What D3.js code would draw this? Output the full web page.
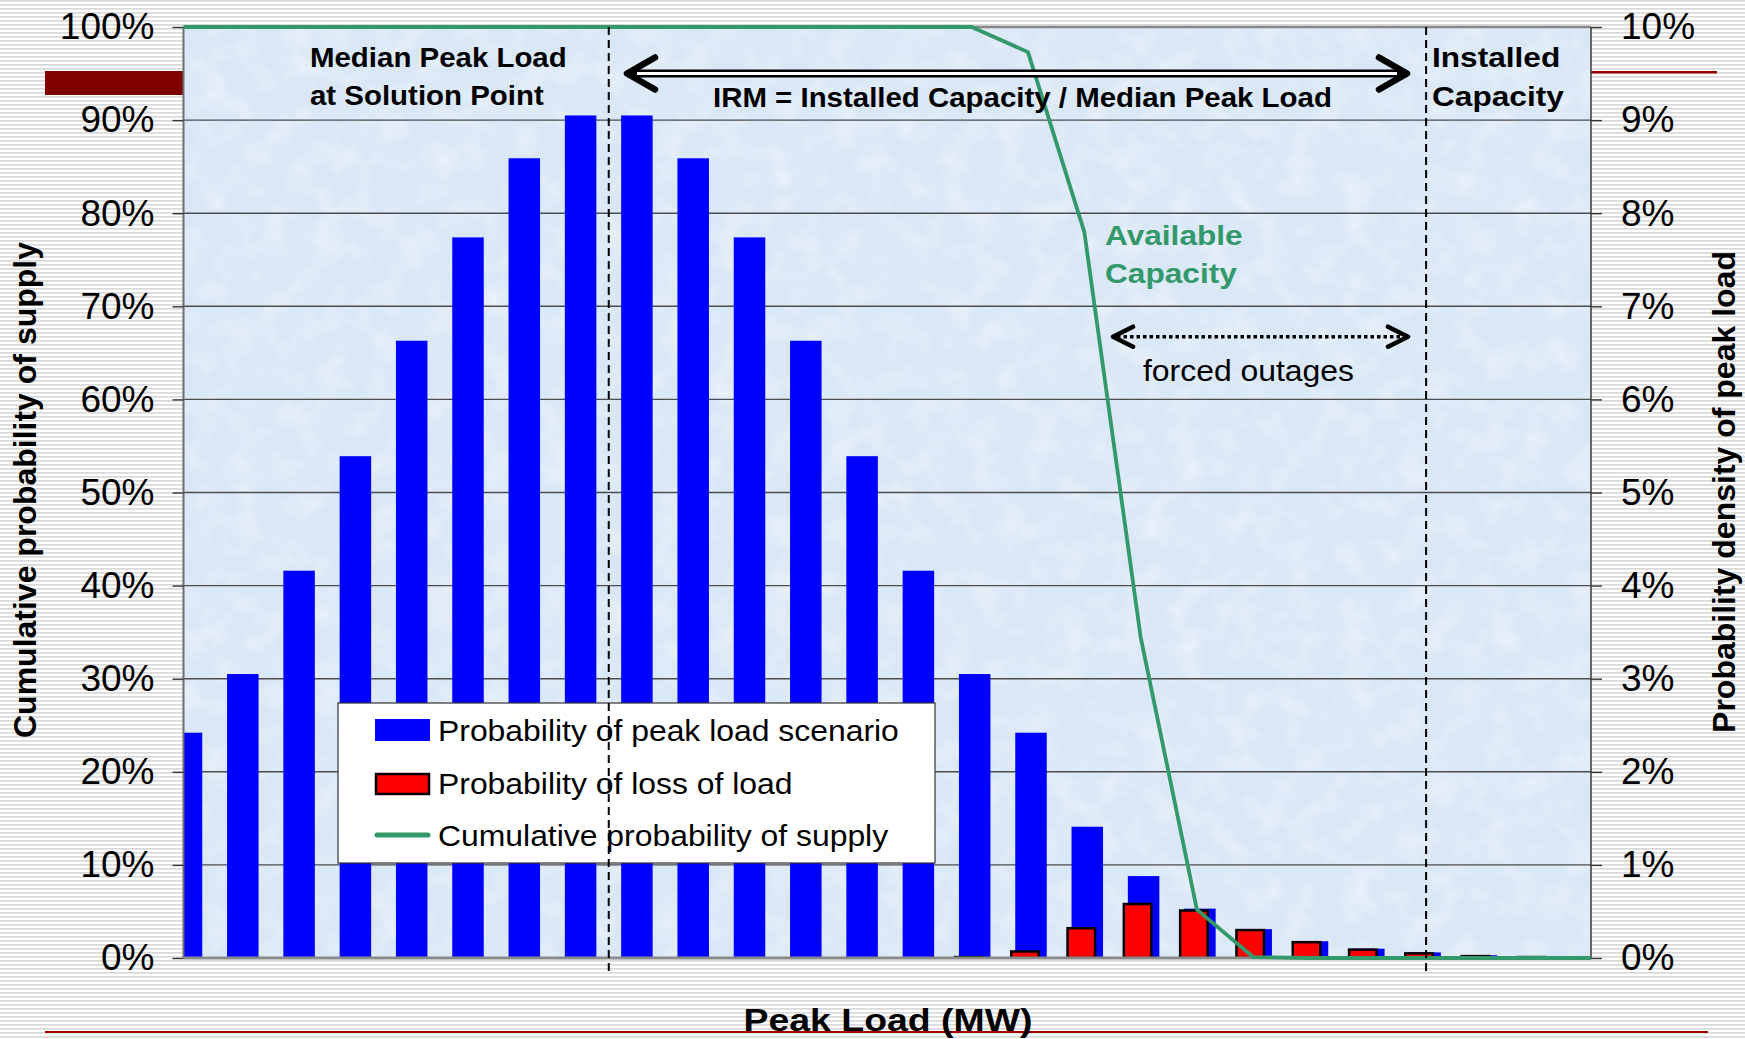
<!DOCTYPE html>
<html>
<head>
<meta charset="utf-8">
<script src="https://cdn.jsdelivr.net/npm/d3@7"></script>
<style>
  body { margin: 0; background: #fff; }
  text { font-family: "Liberation Sans", Arial, sans-serif; }
</style>
</head>
<body>
<div class="chart"></div>
<script>
// scenario index (26 peak load steps, no labels on the x axis)
var scenarios = d3.range(26);

// probability of peak load scenario (right axis, %)
var peakLoadProb = [2.42, 3.05, 4.16, 5.39, 6.63, 7.74, 8.59, 9.05, 9.05, 8.59, 7.74, 6.63, 5.39,
    4.16, 3.05, 2.42, 1.41, 0.88, 0.53, 0.31, 0.18, 0.10, 0.06, 0.03, 0.015, 0];

// probability of loss of load (right axis, %), null = no bar
var lossOfLoadProb = [null, null, null, null, null, null, null, null, null, null, null, null, null,
    null, 0.01, 0.07, 0.32, 0.58, 0.51, 0.30, 0.17, 0.09, 0.05, 0.02, 0.01, 0];

// cumulative probability of supply (left axis, %)
var supplyCumProb = [100, 100, 100, 100, 100, 100, 100, 100, 100, 100, 100, 100, 100,
    100, 100, 97.3, 78.0, 34.5, 5.2, 0.1, 0, 0, 0, 0, 0, 0];

var leftTicks = [0, 10, 20, 30, 40, 50, 60, 70, 80, 90, 100];
var rightTicks = [0, 1, 2, 3, 4, 5, 6, 7, 8, 9, 10];

var legendItems = ["Probability of peak load scenario", "Probability of loss of load", "Cumulative probability of supply"];

var svgWidth = 1745;
var svgHeight = 1039;

var plot = { left: 183.5, top: 27, right: 1591, bottom: 958 };
var width = plot.right - plot.left;
var height = plot.bottom - plot.top;

var svg = d3.select(".chart")
    .append("svg")
    .attr("width", svgWidth)
    .attr("height", svgHeight);

var defs = svg.append("defs");

var stripes = defs.append("pattern")
    .attr("id", "stripes")
    .attr("width", 8)
    .attr("height", 4)
    .attr("patternUnits", "userSpaceOnUse");
stripes.append("rect").attr("width", 8).attr("height", 4).attr("fill", "#ffffff");
stripes.append("rect").attr("width", 8).attr("height", 1.7).attr("fill", "#d9d9d9");

// faint mottled texture for the plot background
var tex = defs.append("filter")
    .attr("id", "texture")
    .attr("x", 0).attr("y", 0).attr("width", 1).attr("height", 1);
tex.append("feTurbulence")
    .attr("type", "fractalNoise")
    .attr("baseFrequency", 0.035)
    .attr("numOctaves", 3)
    .attr("seed", 7);
tex.append("feColorMatrix")
    .attr("type", "matrix")
    .attr("values", "0 0 0 0 1  0 0 0 0 1  0 0 0 0 1  0.9 0 0 0 -0.38");

defs.append("clipPath")
    .attr("id", "plotClip")
    .append("rect")
    .attr("x", plot.left)
    .attr("y", plot.top)
    .attr("width", width)
    .attr("height", height);

// page background
svg.append("rect")
    .attr("width", svgWidth)
    .attr("height", svgHeight)
    .attr("fill", "url(#stripes)");

// template decorations
svg.append("rect")
    .attr("x", 45).attr("y", 71)
    .attr("width", plot.left - 45).attr("height", 24)
    .attr("fill", "#800000");

svg.append("line")
    .attr("x1", plot.right).attr("x2", 1717)
    .attr("y1", 72.3).attr("y2", 72.3)
    .attr("stroke", "#990000")
    .attr("stroke-width", 2.5);

svg.append("line")
    .attr("x1", 45).attr("x2", 1708)
    .attr("y1", 1032).attr("y2", 1032)
    .attr("stroke", "#a00000")
    .attr("stroke-width", 2);

// scales
var x = d3.scalePoint()
    .domain(scenarios)
    .range([plot.left, plot.right]);

var yLeft = d3.scaleLinear()
    .domain([0, 100])
    .range([plot.bottom, plot.top]);

var yRight = d3.scaleLinear()
    .domain([0, 10])
    .range([plot.bottom, plot.top]);

// plot area
svg.append("rect")
    .attr("x", plot.left)
    .attr("y", plot.top)
    .attr("width", width)
    .attr("height", height)
    .attr("fill", "#d9e7f6");

svg.append("rect")
    .attr("x", plot.left)
    .attr("y", plot.top)
    .attr("width", width)
    .attr("height", height)
    .attr("filter", "url(#texture)");

svg.append("g")
    .selectAll("line")
    .data(leftTicks.slice(1))
    .enter()
    .append("line")
    .attr("x1", plot.left)
    .attr("x2", plot.right)
    .attr("y1", d => yLeft(d))
    .attr("y2", d => yLeft(d))
    .attr("stroke", d => d === 100 ? "#888888" : "#4d4d4d")
    .attr("stroke-width", d => d === 100 ? 2.5 : 1.4);

var barsGroup = svg.append("g").attr("clip-path", "url(#plotClip)");

var blueWidth = 31.5;
var redWidth = 27.5;

barsGroup.selectAll(".blue")
    .data(peakLoadProb)
    .enter()
    .append("rect")
    .attr("class", "blue")
    .attr("x", (d, i) => x(i) + 3 - blueWidth / 2)
    .attr("y", d => yRight(d))
    .attr("width", blueWidth)
    .attr("height", d => plot.bottom - yRight(d))
    .attr("fill", "#0000ff");

barsGroup.selectAll(".red")
    .data(lossOfLoadProb.map((d, i) => ({ v: d, i: i })).filter(d => d.v !== null))
    .enter()
    .append("rect")
    .attr("class", "red")
    .attr("x", d => x(d.i) - 3 - redWidth / 2)
    .attr("y", d => yRight(d.v))
    .attr("width", redWidth)
    .attr("height", d => plot.bottom - yRight(d.v))
    .attr("fill", "#ff0000")
    .attr("stroke", "#000000")
    .attr("stroke-width", 2.5);

// plot borders and axes
svg.append("line")
    .attr("x1", plot.left).attr("x2", plot.left)
    .attr("y1", plot.top).attr("y2", plot.bottom)
    .attr("stroke", "#6e6e6e").attr("stroke-width", 2);

svg.append("line")
    .attr("x1", plot.right).attr("x2", plot.right)
    .attr("y1", plot.top).attr("y2", plot.bottom)
    .attr("stroke", "#3a3a3a").attr("stroke-width", 1.5);

svg.append("line")
    .attr("x1", plot.left).attr("x2", plot.right)
    .attr("y1", plot.bottom).attr("y2", plot.bottom)
    .attr("stroke", "#8a8a8a").attr("stroke-width", 3);

var leftAxis = d3.axisLeft(yLeft)
    .tickValues(leftTicks)
    .tickSize(11)
    .tickPadding(18)
    .tickFormat(d => d + "%");

var rightAxis = d3.axisRight(yRight)
    .tickValues(rightTicks)
    .tickSize(11)
    .tickPadding(19)
    .tickFormat(d => d + "%");

var leftG = svg.append("g")
    .attr("transform", `translate(${plot.left}, 0)`)
    .call(leftAxis);

var rightG = svg.append("g")
    .attr("transform", `translate(${plot.right}, 0)`)
    .call(rightAxis);

[leftG, rightG].forEach(function(g) {
    g.select(".domain").remove();
    g.selectAll(".tick line").attr("stroke", "#333333").attr("stroke-width", 1.4);
    g.selectAll(".tick text")
        .attr("font-size", 37)
        .attr("fill", "#000000");
});

// cumulative probability of supply
var line = d3.line()
    .x((d, i) => x(i))
    .y(d => yLeft(d));

svg.append("path")
    .datum(supplyCumProb)
    .attr("d", line)
    .attr("fill", "none")
    .attr("stroke", "#33996a")
    .attr("stroke-width", 3.8)
    .attr("stroke-linejoin", "round");

// legend
var legend = svg.append("g");

legend.append("rect")
    .attr("x", 338).attr("y", 703)
    .attr("width", 597).attr("height", 160)
    .attr("fill", "#ffffff")
    .attr("stroke", "#333333")
    .attr("stroke-width", 1.2);

legend.append("rect")
    .attr("x", 375).attr("y", 719)
    .attr("width", 55).attr("height", 22)
    .attr("fill", "#0000ff");

legend.append("rect")
    .attr("x", 376).attr("y", 774)
    .attr("width", 53).attr("height", 20)
    .attr("fill", "#ff0000")
    .attr("stroke", "#000000")
    .attr("stroke-width", 2.5);

legend.append("line")
    .attr("x1", 377).attr("x2", 428)
    .attr("y1", 835).attr("y2", 835)
    .attr("stroke", "#33996a")
    .attr("stroke-width", 5)
    .attr("stroke-linecap", "round");

function label(g, px, py, str, size, weight, fill, sx, anchor) {
    return g.append("text")
        .attr("transform", `translate(${px}, ${py}) scale(${sx}, 1)`)
        .attr("font-size", size)
        .attr("font-weight", weight)
        .attr("fill", fill)
        .attr("text-anchor", anchor || "start")
        .text(str);
}

legendItems.forEach(function(t, i) {
    label(legend, 438, 741 + i * 52.7, t, 29, "normal", "#000000", 1.1);
});

// dashed reference lines (median peak load / installed capacity)
var medianX = (x(7) + x(8)) / 2 + 3;
var installedX = x(22) + 4;

[medianX, installedX].forEach(function(px) {
    svg.append("line")
        .attr("x1", px).attr("x2", px)
        .attr("y1", plot.top).attr("y2", 972)
        .attr("stroke", "#000000")
        .attr("stroke-width", 2)
        .attr("stroke-dasharray", "8,5");
});

// IRM double arrow
var irmY = 73.5;
var irmL = 627;
var irmR = 1407;

svg.append("line")
    .attr("x1", irmL + 6).attr("x2", irmR - 6)
    .attr("y1", irmY).attr("y2", irmY)
    .attr("stroke", "#000000").attr("stroke-width", 8);
svg.append("line")
    .attr("x1", irmL + 10).attr("x2", irmR - 10)
    .attr("y1", irmY).attr("y2", irmY)
    .attr("stroke", "#ffffff").attr("stroke-width", 3);

svg.append("path")
    .attr("d", `M${irmL + 28},${irmY - 16} L${irmL},${irmY} L${irmL + 28},${irmY + 16}` +
        ` M${irmR - 28},${irmY - 16} L${irmR},${irmY} L${irmR - 28},${irmY + 16}`)
    .attr("fill", "none")
    .attr("stroke", "#000000")
    .attr("stroke-width", 6.5)
    .attr("stroke-linecap", "round")
    .attr("stroke-linejoin", "round");

// forced outages dotted arrow
var foY = 336.7;
var foL = 1113;
var foR = 1408;

svg.append("line")
    .attr("x1", foL + 4).attr("x2", foR - 4)
    .attr("y1", foY).attr("y2", foY)
    .attr("stroke", "#000000")
    .attr("stroke-width", 3.5)
    .attr("stroke-dasharray", "3.5,3");

svg.append("path")
    .attr("d", `M${foL + 20},${foY - 10} L${foL},${foY} L${foL + 20},${foY + 10}` +
        ` M${foR - 20},${foY - 10} L${foR},${foY} L${foR - 20},${foY + 10}`)
    .attr("fill", "none")
    .attr("stroke", "#000000")
    .attr("stroke-width", 4.5)
    .attr("stroke-linecap", "round")
    .attr("stroke-linejoin", "round");

// annotations
var notes = svg.append("g");

label(notes, 310, 67, "Median Peak Load", 27, "bold", "#000000", 1.09);
label(notes, 310, 105, "at Solution Point", 27, "bold", "#000000", 1.09);
label(notes, 713, 107, "IRM = Installed Capacity / Median Peak Load", 27, "bold", "#000000", 1.09);
label(notes, 1432, 67, "Installed", 28.5, "bold", "#000000", 1.11);
label(notes, 1432, 106, "Capacity", 28.5, "bold", "#000000", 1.11);
label(notes, 1105, 245, "Available", 28.5, "bold", "#33996a", 1.11);
label(notes, 1105, 283, "Capacity", 28.5, "bold", "#33996a", 1.11);
label(notes, 1143, 381, "forced outages", 29, "normal", "#000000", 1.1);

// axis titles
svg.append("text")
    .attr("transform", "translate(36, 490) rotate(-90)")
    .attr("text-anchor", "middle")
    .attr("font-size", 32)
    .attr("font-weight", "bold")
    .text("Cumulative probability of supply");

svg.append("text")
    .attr("transform", "translate(1735, 492) rotate(-90)")
    .attr("text-anchor", "middle")
    .attr("font-size", 32)
    .attr("font-weight", "bold")
    .text("Probability density of peak load");

label(svg, 888, 1031, "Peak Load (MW)", 32, "bold", "#000000", 1.17, "middle");
</script>
</body>
</html>
